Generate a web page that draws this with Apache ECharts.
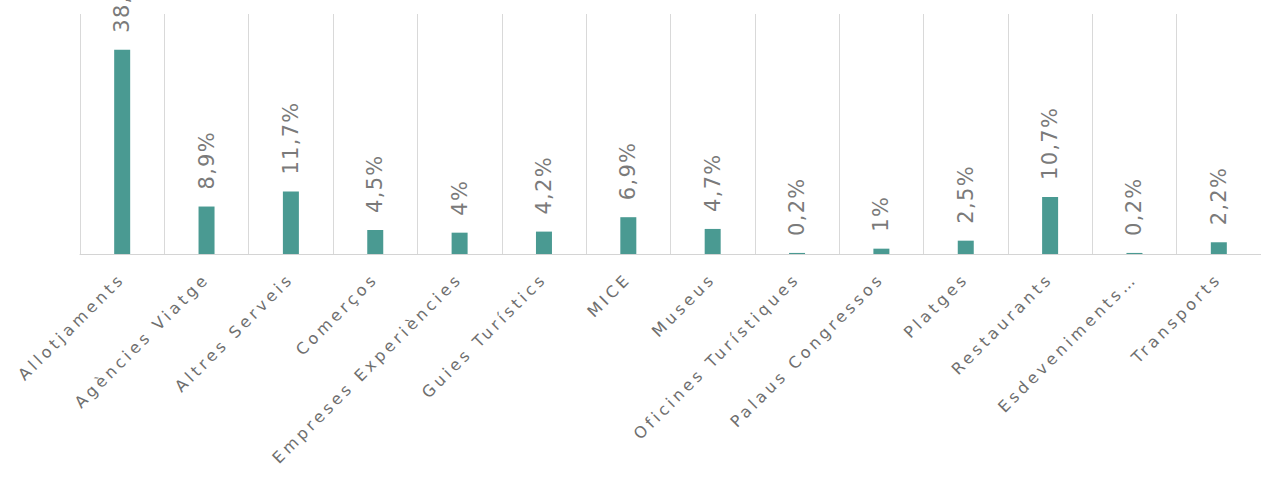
<!DOCTYPE html>
<html>
<head>
<meta charset="utf-8">
<script src="https://cdn.jsdelivr.net/npm/echarts@6/dist/echarts.min.js"></script>
<style>
html,body{margin:0;padding:0;background:#fff;}
#c{width:1261px;height:481px;}
#c text[fill="#6e6e6e"], #c text[fill="rgb(110,110,110)"] { letter-spacing: 3.6px; }
#c text[fill="#7a7a7a"], #c text[fill="rgb(122,122,122)"] { letter-spacing: 1.3px; }
</style>
</head>
<body>
<div id="c"></div>
<script>
const categories = ["Allotjaments","Agències Viatge","Altres Serveis","Comerços","Empreses Experiències","Guies Turístics","MICE","Museus","Oficines Turístiques","Palaus Congressos","Platges","Restaurants","Esdeveniments…","Transports"];
const values = [38.3, 8.9, 11.7, 4.5, 4, 4.2, 6.9, 4.7, 0.2, 1, 2.5, 10.7, 0.2, 2.2];

const chart = echarts.init(document.getElementById('c'), null, {renderer:'svg'});
chart.setOption({
  animation:false,
  grid:{left:80, right:-2, top:14, bottom:227, containLabel:false},
  xAxis:{
    type:'category',
    data:categories,
    boundaryGap:true,
    axisLine:{show:true, lineStyle:{color:'#d4d4d4', width:1}},
    axisTick:{show:false},
    splitLine:{show:true, interval:0, lineStyle:{color:'#d9d9d9', width:1}},
    axisLabel:{interval:0, rotate:45, margin:22, color:'#6e6e6e', fontSize:16, fontFamily:'DejaVu Sans'}
  },
  yAxis:{type:'value', min:0, max:45, show:false, splitLine:{show:false}},
  series:[{
    type:'bar',
    data:values,
    barWidth:16,
    itemStyle:{color:'#4a9a92'},
    label:{
      show:true, position:'top', rotate:90, align:'left', verticalAlign:'middle', distance:17,
      color:'#7a7a7a', fontSize:21, fontFamily:'DejaVu Sans',
      formatter:(p)=> String(p.value).replace('.', ',') + '%'
    }
  }]
});
</script>
</body>
</html>
